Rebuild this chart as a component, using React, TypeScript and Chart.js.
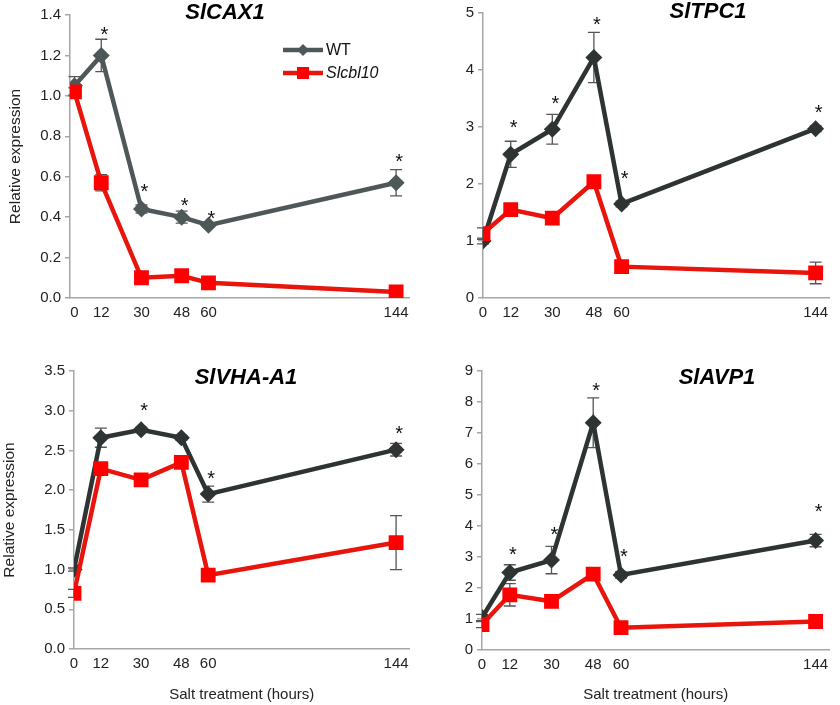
import React, { useEffect, useRef } from 'react';
import { Chart, registerables } from 'chart.js';

Chart.register(...registerables);

const FONT = 'Arial, "Liberation Sans", sans-serif';

const hours = [0, 12, 30, 48, 60, 144];
const seriesNames = ['WT', 'Slcbl10'];

// SlCAX1
const cax1WT = [1.05, 1.2, 0.44, 0.4, 0.36, 0.57];
const cax1WTErr = [0.045, 0.08, 0.02, 0.03, 0.01, 0.065];
const cax1Mut = [1.02, 0.57, 0.1, 0.11, 0.075, 0.03];
const cax1MutErr = [0.02, 0.04, 0.01, 0.01, 0.01, 0.01];
const cax1Sig = [null, 1.33, 0.55, 0.48, 0.42, 0.7];

// SlTPC1
const tpc1WT = [1.0, 2.52, 2.96, 4.22, 1.65, 2.97];
const tpc1WTErr = [0.05, 0.23, 0.26, 0.44, 0.05, 0.05];
const tpc1Mut = [1.13, 1.55, 1.4, 2.04, 0.55, 0.44];
const tpc1MutErr = [0.1, 0.05, 0.05, 0.05, 0.05, 0.19];
const tpc1Sig = [null, 3.08, 3.49, 4.88, 2.19, 3.34];

// SlVHA-A1
const vhaWT = [1.0, 2.66, 2.76, 2.66, 1.95, 2.51];
const vhaWTErr = [0.02, 0.12, 0.03, 0.03, 0.1, 0.08];
const vhaMut = [0.7, 2.27, 2.13, 2.35, 0.93, 1.34];
const vhaMutErr = [0.05, 0.05, 0.05, 0.05, 0.05, 0.34];
const vhaSig = [null, null, 3.07, null, 2.21, 2.78];

// SlAVP1
const avpWT = [1.05, 2.5, 2.9, 7.33, 2.42, 3.53];
const avpWTErr = [0.1, 0.25, 0.44, 0.8, 0.1, 0.2];
const avpMut = [0.82, 1.78, 1.57, 2.45, 0.72, 0.92];
const avpMutErr = [0.1, 0.36, 0.1, 0.1, 0.1, 0.1];
const avpSig = [null, 3.24, 3.89, 8.54, 3.17, 4.64];

const RED_LINE = '#e8150c';
const RED_PT = '#ff0000';
const AXIS = '#a6a6a6';
const ERR = '#555555';

type PanelCfg = {
  title: string;
  wt: number[];
  wtErr: number[];
  mut: number[];
  mutErr: number[];
  sig: (number | null)[];
  yMax: number;
  yStep: number;
  decimals: number;
  wtColor: string;
  left: number;
  top: number;
  width: number;
  height: number;
  areaLeft: number;
  areaRight: number;
  areaTop: number;
  areaBottom: number;
  xMin: number;
  yTitle: boolean;
  yTitlePad: number;
  xTitle: boolean;
  titleX: number;
  titleY: number;
  legend: boolean;
};

const decorPlugin = {
  id: 'decor',
  beforeDatasetsDraw(chart: any) {
    const ctx = chart.ctx;
    const ys = chart.scales.y;
    ctx.save();
    ctx.strokeStyle = ERR;
    ctx.lineWidth = 1.3;
    chart.data.datasets.forEach((ds: any, i: number) => {
      const meta = chart.getDatasetMeta(i);
      (ds.errors || []).forEach((e: number, j: number) => {
        const pt = meta.data[j];
        if (!pt || !e) return;
        const v = ds.data[j].y;
        const y1 = ys.getPixelForValue(v + e);
        const y2 = ys.getPixelForValue(v - e);
        ctx.beginPath();
        ctx.moveTo(pt.x, y1);
        ctx.lineTo(pt.x, y2);
        ctx.moveTo(pt.x - 6, y1);
        ctx.lineTo(pt.x + 6, y1);
        ctx.moveTo(pt.x - 6, y2);
        ctx.lineTo(pt.x + 6, y2);
        ctx.stroke();
      });
    });
    ctx.restore();
  },
  afterDraw(chart: any, _args: any, opts: any) {
    const ctx = chart.ctx;
    const xs = chart.scales.x;
    const ys = chart.scales.y;
    ctx.save();
    // asterisks
    ctx.fillStyle = '#111';
    ctx.font = `20px ${FONT}`;
    ctx.textAlign = 'center';
    ctx.textBaseline = 'alphabetic';
    (opts.sig || []).forEach((s: number | null, j: number) => {
      if (s == null) return;
      const x = xs.getPixelForValue(hours[j]) + 3;
      const y = ys.getPixelForValue(s);
      ctx.fillText('*', x, y + 20 * 0.57);
    });
    // title
    ctx.font = `italic bold 22px ${FONT}`;
    ctx.textBaseline = 'middle';
    ctx.fillStyle = '#000';
    ctx.fillText(opts.title, opts.titleX, opts.titleY);
    // legend
    if (opts.legend) {
      const items = chart.data.datasets
        .map((d: any) => d)
        .sort((a: any, b: any) => b.order - a.order);
      items.forEach((d: any, k: number) => {
        const y = 50 + k * 23;
        const x0 = 283;
        const x1 = 323;
        ctx.strokeStyle = d.borderColor;
        ctx.lineWidth = 4.5;
        ctx.beginPath();
        ctx.moveTo(x0, y);
        ctx.lineTo(x1, y);
        ctx.stroke();
        ctx.fillStyle = d.pointBackgroundColor;
        const cx = (x0 + x1) / 2;
        ctx.beginPath();
        if (d.pointStyle === 'rectRot') {
          const r = 6;
          ctx.moveTo(cx, y - r);
          ctx.lineTo(cx + r, y);
          ctx.lineTo(cx, y + r);
          ctx.lineTo(cx - r, y);
          ctx.closePath();
        } else {
          ctx.rect(cx - 6, y - 6, 12, 12);
        }
        ctx.fill();
        ctx.fillStyle = '#111';
        ctx.textAlign = 'left';
        ctx.font = `${k === 1 ? 'italic ' : ''}16px ${FONT}`;
        ctx.fillText(d.label, x1 + 3, y + 1);
      });
    }
    ctx.restore();
  },
};

function Panel({ cfg }: { cfg: PanelCfg }) {
  const ref = useRef<HTMLCanvasElement | null>(null);
  useEffect(() => {
    if (!ref.current) return;
    const tickFont = { family: FONT, size: 15 };
    const chart = new Chart(ref.current, {
      type: 'line',
      data: {
        datasets: [
          {
            label: seriesNames[0],
            data: hours.map((h, i) => ({ x: h, y: cfg.wt[i] })),
            errors: cfg.wtErr,
            borderColor: cfg.wtColor,
            backgroundColor: cfg.wtColor,
            pointBackgroundColor: cfg.wtColor,
            pointBorderColor: cfg.wtColor,
            borderWidth: 4.5,
            pointStyle: 'rectRot',
            pointRadius: 8.5,
            pointBorderWidth: 0,
            tension: 0,
            order: 1,
          } as any,
          {
            label: seriesNames[1],
            data: hours.map((h, i) => ({ x: h, y: cfg.mut[i] })),
            errors: cfg.mutErr,
            borderColor: RED_LINE,
            backgroundColor: RED_PT,
            pointBackgroundColor: RED_PT,
            pointBorderColor: RED_PT,
            borderWidth: 4.5,
            pointStyle: 'rect',
            pointRadius: 10.5,
            pointBorderWidth: 0,
            tension: 0,
            order: 0,
          } as any,
        ],
      },
      options: {
        animation: false,
        responsive: false,
        maintainAspectRatio: false,
        events: [],
        layout: {
          padding: {
            left: 0,
            top: cfg.areaTop,
            right: cfg.width - cfg.areaRight,
            bottom: 0,
          },
        },
        plugins: {
          legend: { display: false },
          tooltip: { enabled: false },
          title: { display: false },
          decor: {
            sig: cfg.sig,
            title: cfg.title,
            titleX: cfg.titleX,
            titleY: cfg.titleY,
            legend: cfg.legend,
          },
        } as any,
        scales: {
          x: {
            type: 'linear',
            min: cfg.xMin,
            max: 150,
            afterBuildTicks: (s: any) => {
              s.ticks = hours.map((v) => ({ value: v }));
            },
            afterFit: (s: any) => {
              s.height = cfg.height - cfg.areaBottom;
            },
            ticks: {
              autoSkip: false,
              maxRotation: 0,
              padding: 6,
              color: '#222',
              font: tickFont,
              callback: (v: any) => String(v),
            },
            grid: { display: false, drawTicks: false },
            border: { display: true, color: AXIS, width: 1.5 },
            title: {
              display: cfg.xTitle,
              text: 'Salt treatment (hours)',
              color: '#222',
              font: { family: FONT, size: 15 },
              padding: { top: 0, bottom: 1 },
            },
          },
          y: {
            type: 'linear',
            min: 0,
            max: cfg.yMax,
            afterFit: (s: any) => {
              s.width = cfg.areaLeft;
            },
            ticks: {
              stepSize: cfg.yStep,
              padding: 4,
              color: '#222',
              font: tickFont,
              callback: (v: any) => Number(v).toFixed(cfg.decimals),
            },
            grid: {
              display: true,
              drawOnChartArea: false,
              drawTicks: true,
              tickLength: 5,
              color: AXIS,
              lineWidth: 1.5,
            },
            border: { display: true, color: AXIS, width: 1.5 },
            title: {
              display: cfg.yTitle,
              text: 'Relative expression',
              color: '#222',
              font: { family: FONT, size: 15.5 },
              padding: { top: cfg.yTitlePad, bottom: 0 },
            },
          },
        },
      } as any,
      plugins: [decorPlugin as any],
    });
    return () => chart.destroy();
  }, [cfg]);
  return (
    <div
      style={{
        position: 'absolute',
        left: cfg.left,
        top: cfg.top,
        width: cfg.width,
        height: cfg.height,
      }}
    >
      <canvas
        ref={ref}
        width={cfg.width}
        height={cfg.height}
        style={{ width: cfg.width, height: cfg.height, display: 'block' }}
      />
    </div>
  );
}

const panels: PanelCfg[] = [
  {
    title: 'SlCAX1',
    wt: cax1WT, wtErr: cax1WTErr, mut: cax1Mut, mutErr: cax1MutErr, sig: cax1Sig,
    yMax: 1.4, yStep: 0.2, decimals: 1, wtColor: '#4f5858',
    left: 0, top: 0, width: 420, height: 340,
    areaLeft: 70, areaRight: 415, areaTop: 15, areaBottom: 298,
    xMin: -2, yTitle: true, yTitlePad: 6, xTitle: false,
    titleX: 225, titleY: 13, legend: true,
  },
  {
    title: 'SlTPC1',
    wt: tpc1WT, wtErr: tpc1WTErr, mut: tpc1Mut, mutErr: tpc1MutErr, sig: tpc1Sig,
    yMax: 5, yStep: 1, decimals: 0, wtColor: '#2e3333',
    left: 420, top: 0, width: 420, height: 340,
    areaLeft: 63, areaRight: 418, areaTop: 12, areaBottom: 298,
    xMin: 0, yTitle: false, yTitlePad: 0, xTitle: false,
    titleX: 288, titleY: 12, legend: false,
  },
  {
    title: 'SlVHA-A1',
    wt: vhaWT, wtErr: vhaWTErr, mut: vhaMut, mutErr: vhaMutErr, sig: vhaSig,
    yMax: 3.5, yStep: 0.5, decimals: 1, wtColor: '#2e3333',
    left: 0, top: 340, width: 420, height: 365,
    areaLeft: 74, areaRight: 415, areaTop: 31, areaBottom: 309,
    xMin: 0, yTitle: true, yTitlePad: 0, xTitle: true,
    titleX: 246, titleY: 38, legend: false,
  },
  {
    title: 'SlAVP1',
    wt: avpWT, wtErr: avpWTErr, mut: avpMut, mutErr: avpMutErr, sig: avpSig,
    yMax: 9, yStep: 1, decimals: 0, wtColor: '#2e3333',
    left: 420, top: 340, width: 420, height: 365,
    areaLeft: 62, areaRight: 418, areaTop: 31, areaBottom: 310,
    xMin: 0, yTitle: false, yTitlePad: 0, xTitle: true,
    titleX: 297, titleY: 38, legend: false,
  },
];

export default function App() {
  return (
    <div
      style={{
        position: 'absolute',
        left: 0,
        top: 0,
        width: 840,
        height: 705,
        background: '#fff',
        overflow: 'hidden',
      }}
    >
      {panels.map((p, i) => (
        <Panel key={i} cfg={p} />
      ))}
    </div>
  );
}
